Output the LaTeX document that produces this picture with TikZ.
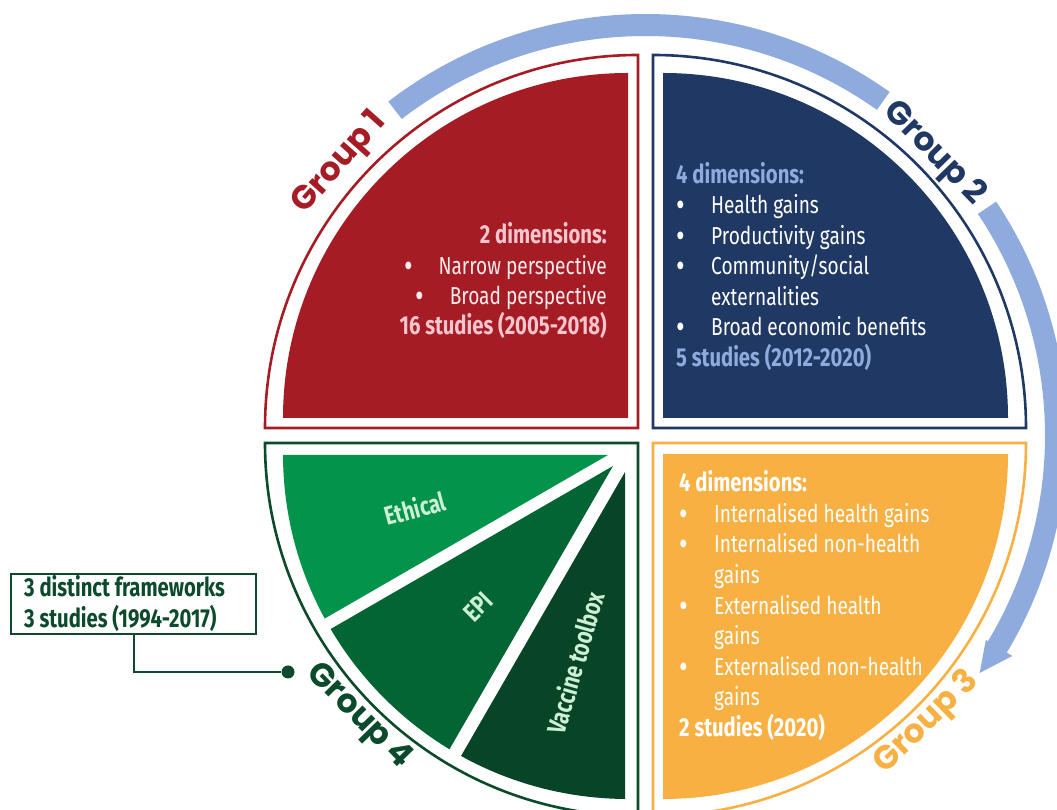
\documentclass[tikz,border=0pt]{standalone}
\usepackage{fontspec}
\setmainfont{Fira Sans}[FakeStretch=0.78]
\newfontfamily\grpfont{Poppins}
\usetikzlibrary{calc}
\definecolor{cRed}{HTML}{A51C24}
\definecolor{cNavy}{HTML}{1F3864}
\definecolor{cOrange}{HTML}{F9B042}
\definecolor{cArc}{HTML}{8FAADC}
\definecolor{cGa}{HTML}{04934A}
\definecolor{cGb}{HTML}{036534}
\definecolor{cGc}{HTML}{074526}
\definecolor{cGout}{HTML}{0B4A2B}
\definecolor{cPink}{HTML}{F6C5CD}
\definecolor{cRedTxt}{HTML}{FDEBEE}
\definecolor{cLabG}{HTML}{CDEFD6}
\tikzset{
  outl/.style={line width=2.6pt},
  bodytxt/.style={font=\fontsize{24.5}{30}\selectfont, inner sep=0pt},
  headtxt/.style={font=\fontsize{26}{30}\selectfont\bfseries, inner sep=0pt},
  grptxt/.style={font=\grpfont\fontsize{33}{36}\selectfont\bfseries, inner sep=0pt},
  wedgetxt/.style={font=\fontsize{26}{28}\selectfont\bfseries, text=cLabG, inner sep=0pt},
  calltxt/.style={font=\fontsize{26}{30}\selectfont\bfseries, text=cGout, inner sep=0pt, anchor=base west},
}
\newcommand{\bul}[1]{\makebox[#1][l]{\fontsize{34}{30}\selectfont\raisebox{-2.5pt}{•}}}
\begin{document}
\begin{tikzpicture}[x=1pt,y=1pt]
\useasboundingbox (0,0) rectangle (1057,810);
% circular arrow
\begin{scope}[shift={(645.5,374.5)}]
  \fill[cArc] (127.6:421.5) arc[start angle=127.6, end angle=54.6, radius=421.5]
    -- (54.6:399.5) arc[start angle=54.6, end angle=127.6, radius=399.5] -- cycle;
  \fill[cArc] (33.7:421.5) arc[start angle=33.7, end angle=-31, radius=421.5]
    -- (-31:428) -- (-35.4:410) -- (-31:397) -- (-31:399.5)
    arc[start angle=-31, end angle=33.7, radius=399.5] -- cycle;
\end{scope}
% quadrant outlines
\draw[outl, cRed] (638,382) -- (265,382) arc[start angle=180, end angle=90, radius=373] -- cycle;
\draw[outl, cNavy] (653,382) -- (653,755) arc[start angle=90, end angle=0, radius=373] -- cycle;
\draw[outl, cOrange] (653,367) -- (1026,367) arc[start angle=0, end angle=-90, radius=373] -- cycle;
\draw[outl, cGout] (638,367) -- (638,-6) arc[start angle=270, end angle=180, radius=373] -- cycle;
% quadrant fills
\fill[cRed] (628,392) -- (283,392) arc[start angle=180, end angle=90, radius=345] -- cycle;
\fill[cNavy] (663,392) -- (663,737) arc[start angle=90, end angle=0, radius=345] -- cycle;
\fill[cOrange] (663,356) -- (1008,356) arc[start angle=0, end angle=-90, radius=345] -- cycle;
\begin{scope}
  \clip (628,356) -- (283,356) arc[start angle=180, end angle=270, radius=345] -- cycle;
  \fill[cGa] (608,355) -- +(180:600) -- +(210:600) -- cycle;
  \fill[cGb] (613,344) -- +(210:600) -- +(240:600) -- cycle;
  \fill[cGc] (625,338) -- +(240:600) -- +(270:600) -- cycle;
\end{scope}
% group labels
\begin{scope}[shift={(645.5,374.5)}]
  \node[grptxt, text=cRed, rotate=48.3] (g1) at (138.3:409) {Group 1};
  \node[grptxt, text=cNavy, rotate=-45.7] (g2) at (44.3:403) {Group 2};
  \node[grptxt, text=cOrange, rotate=44.4] (g3) at (-45.6:402) {Group 3};
  \node[grptxt, text=cGout, rotate=-45.6] (g4) at (-135.6:402) {Group 4};
\end{scope}
% group 1 text
\node[headtxt, text=cPink, anchor=base east] (r1) at (607,566) {2 dimensions:};
\node[bodytxt, text=cRedTxt, anchor=base east] (r2) at (607,535) {\bul{34pt}Narrow perspective};
\node[bodytxt, text=cRedTxt, anchor=base east] (r3) at (607,505) {\bul{34pt}Broad perspective};
\node[headtxt, text=cPink, anchor=base east] (r4) at (607,475) {16 studies (2005-2018)};
% group 2 text
\node[headtxt, text=cArc, anchor=base west] (b1) at (676,626) {4 dimensions:};
\node[bodytxt, text=white, anchor=base west] (b2) at (676,596) {\bul{35pt}Health gains};
\node[bodytxt, text=white, anchor=base west] (b3) at (676,565) {\bul{35pt}Productivity gains};
\node[bodytxt, text=white, anchor=base west] (b4) at (676,535) {\bul{35pt}Community/social};
\node[bodytxt, text=white, anchor=base west] (b5) at (711,504) {externalities};
\node[bodytxt, text=white, anchor=base west] (b6) at (676,474) {\bul{35pt}Broad economic benefits};
\node[headtxt, text=cArc, anchor=base west] (b7) at (676,443) {5 studies (2012-2020)};
% group 3 text
\node[headtxt, text=white, anchor=base west] (o1) at (679,318) {4 dimensions:};
\node[bodytxt, text=white, anchor=base west] (o2) at (679,287) {\bul{35pt}Internalised health gains};
\node[bodytxt, text=white, anchor=base west] (o3) at (679,257) {\bul{35pt}Internalised non-health};
\node[bodytxt, text=white, anchor=base west] (o4) at (714,226) {gains};
\node[bodytxt, text=white, anchor=base west] (o5) at (679,195) {\bul{35pt}Externalised health};
\node[bodytxt, text=white, anchor=base west] (o6) at (714,165) {gains};
\node[bodytxt, text=white, anchor=base west] (o7) at (679,134) {\bul{35pt}Externalised non-health};
\node[bodytxt, text=white, anchor=base west] (o8) at (714,104) {gains};
\node[headtxt, text=white, anchor=base west] (o9) at (679,73) {2 studies (2020)};
% group 4 wedge labels
\node[wedgetxt, rotate=15] (w1) at (415,302) {Ethical};
\node[wedgetxt, rotate=45] (w2) at (478,203) {EPI};
\node[wedgetxt, rotate=74] (w3) at (575,147) {Vaccine toolbox};
% callout
\node[draw=cGout, line width=2.4pt, minimum width=244.6pt, minimum height=59.6pt, inner sep=0pt] (box) at (133.5,206) {};
\node[calltxt] (c1) at (24,213) {3 distinct frameworks};
\node[calltxt] (c2) at (24,182) {3 studies (1994-2017)};
\node[circle, fill=cGout, minimum size=13pt, inner sep=0pt] (dot) at (288,138) {};
\draw[cGout, line width=2pt] (box.south) |- (dot);
\end{tikzpicture}
\end{document}
